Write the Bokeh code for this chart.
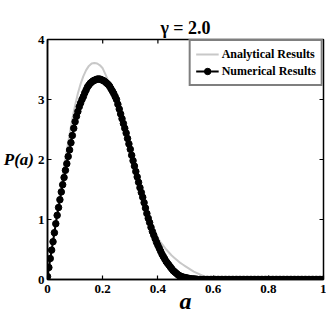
import numpy as np
from bokeh.plotting import figure
from bokeh.models import Range1d, FixedTicker, Legend, LegendItem
from bokeh.embed import file_html
from bokeh.resources import INLINE

# ---------------- data ----------------
title_text = "γ = 2.0"
x_label = "a"
y_label = "P(a)"
x_ticks = [0, 0.2, 0.4, 0.6, 0.8, 1.0]
x_tick_labels = ["0", "0.2", "0.4", "0.6", "0.8", "1"]
y_ticks = [0, 1, 2, 3, 4]
y_tick_labels = ["0", "1", "2", "3", "4"]
series_names = ["Analytical Results", "Numerical Results"]

# analytical curve, sampled every 0.01 in a
a_analytical = np.linspace(0, 1, 101)
p_analytical = [
    0.00, 0.32, 0.64, 0.96, 1.27, 1.58, 1.88, 2.15, 2.42, 2.68,
    2.90, 3.10, 3.26, 3.39, 3.49, 3.56, 3.60, 3.61, 3.60, 3.57,
    3.52, 3.42, 3.31, 3.20, 3.10, 3.00, 2.84, 2.68, 2.52, 2.35,
    2.17, 1.98, 1.80, 1.62, 1.45, 1.28, 1.12, 0.98, 0.86, 0.77,
    0.69, 0.62, 0.56, 0.50, 0.45, 0.40, 0.36, 0.32, 0.28, 0.25,
    0.22, 0.19, 0.16, 0.13, 0.11, 0.09, 0.07, 0.05, 0.035, 0.025,
    0.015, 0.01, 0.005, 0.0, 0.0, 0.0, 0.0, 0.0, 0.0, 0.0,
    0.0, 0.0, 0.0, 0.0, 0.0, 0.0, 0.0, 0.0, 0.0, 0.0,
    0.0, 0.0, 0.0, 0.0, 0.0, 0.0, 0.0, 0.0, 0.0, 0.0,
    0.0, 0.0, 0.0, 0.0, 0.0, 0.0, 0.0, 0.0, 0.0, 0.0,
    0.0,
]

# numerical results, sampled every 0.005 in a
a_numerical = np.linspace(0, 1, 201)
p_numerical = [
    0.05, 0.20, 0.35, 0.49, 0.63, 0.78, 0.93, 1.07, 1.20, 1.33,
    1.46, 1.58, 1.70, 1.82, 1.93, 2.05, 2.16, 2.28, 2.40, 2.52,
    2.63, 2.72, 2.80, 2.88, 2.94, 3.00, 3.05, 3.11, 3.16, 3.21,
    3.24, 3.27, 3.29, 3.31, 3.32, 3.33, 3.34, 3.34, 3.34, 3.33,
    3.32, 3.31, 3.29, 3.27, 3.25, 3.22, 3.18, 3.14, 3.10, 3.05,
    3.00, 2.92, 2.84, 2.76, 2.68, 2.60, 2.52, 2.44, 2.35, 2.26,
    2.17, 2.07, 1.98, 1.89, 1.80, 1.71, 1.62, 1.53, 1.45, 1.37,
    1.28, 1.19, 1.10, 1.02, 0.95, 0.87, 0.80, 0.74, 0.68, 0.62,
    0.57, 0.52, 0.47, 0.42, 0.38, 0.34, 0.30, 0.27, 0.24, 0.21,
    0.18, 0.15, 0.13, 0.11, 0.09, 0.07, 0.06, 0.05, 0.04, 0.035,
    0.03, 0.025, 0.02, 0.015, 0.01, 0.01, 0.01, 0.005, 0.005, 0.0,
    0.0,
    0.0, 0.0, 0.0, 0.0, 0.0, 0.0, 0.0, 0.0, 0.0, 0.0,
    0.0, 0.0, 0.0, 0.0, 0.0, 0.0, 0.0, 0.0, 0.0, 0.0,
    0.0, 0.0, 0.0, 0.0, 0.0, 0.0, 0.0, 0.0, 0.0, 0.0,
    0.0, 0.0, 0.0, 0.0, 0.0, 0.0, 0.0, 0.0, 0.0, 0.0,
    0.0, 0.0, 0.0, 0.0, 0.0, 0.0, 0.0, 0.0, 0.0, 0.0,
    0.0, 0.0, 0.0, 0.0, 0.0, 0.0, 0.0, 0.0, 0.0, 0.0,
    0.0, 0.0, 0.0, 0.0, 0.0, 0.0, 0.0, 0.0, 0.0, 0.0,
    0.0, 0.0, 0.0, 0.0, 0.0, 0.0, 0.0, 0.0, 0.0, 0.0,
    0.0, 0.0, 0.0, 0.0, 0.0, 0.0, 0.0, 0.0, 0.0, 0.0,
]
assert len(p_analytical) == len(a_analytical)
assert len(p_numerical) == len(a_numerical)

# ---------------- figure ----------------
FONT = "Liberation Serif"
X0, X1, Y0, Y1 = 0.0, 1.0, 0.0, 4.0
FRAME_W, FRAME_H = 277, 240
TICK_PX = 4

p = figure(
    width=326, height=319,
    x_range=Range1d(X0, X1), y_range=Range1d(Y0, Y1),
    output_backend="svg", toolbar_location=None,
    min_border_left=46, min_border_top=39,
    min_border_right=3, min_border_bottom=40,
)
p.xgrid.visible = False
p.ygrid.visible = False
p.outline_line_color = "black"
p.outline_line_width = 1.5
p.background_fill_color = "white"
p.border_fill_color = "white"

p.title.text = title_text
p.title.align = "center"
p.title.text_font = FONT
p.title.text_font_style = "bold"
p.title.text_font_size = "18px"
p.title.text_color = "black"
p.title.standoff = 4


def style_axis(ax):
    ax.major_tick_in = TICK_PX
    ax.major_tick_out = 0
    ax.minor_tick_in = 0
    ax.minor_tick_out = 0
    ax.axis_line_color = "black"
    ax.axis_line_width = 1.5
    ax.major_tick_line_color = "black"
    ax.major_tick_line_width = 1.2
    ax.major_label_text_font = FONT
    ax.major_label_text_font_style = "bold"
    ax.major_label_text_color = "black"
    ax.major_label_text_font_size = "13px"
    ax.axis_label_text_font = FONT
    ax.axis_label_text_font_style = "bold italic"
    ax.axis_label_text_color = "black"


xax = p.xaxis[0]
xax.ticker = FixedTicker(ticks=x_ticks)
xax.major_label_overrides = {t: l for t, l in zip(x_ticks, x_tick_labels)}
style_axis(xax)
xax.major_label_standoff = 5
xax.axis_label = x_label
xax.axis_label_text_font_size = "24px"
xax.axis_label_standoff = -8

yax = p.yaxis[0]
yax.ticker = FixedTicker(ticks=y_ticks)
yax.major_label_overrides = {t: l for t, l in zip(y_ticks, y_tick_labels)}
style_axis(yax)
yax.major_label_standoff = 3
yax.axis_label = y_label
yax.axis_label_text_font_size = "17px"
yax.axis_label_orientation = "horizontal"
yax.axis_label_standoff = 1

# mirrored inward ticks on the top and right edges of the frame
dy = TICK_PX * (Y1 - Y0) / FRAME_H
dx = TICK_PX * (X1 - X0) / FRAME_W
p.segment(x0=x_ticks, y0=[Y1] * len(x_ticks), x1=x_ticks, y1=[Y1 - dy] * len(x_ticks),
          line_color="black", line_width=1.2)
p.segment(x0=[X1] * len(y_ticks), y0=y_ticks, x1=[X1 - dx] * len(y_ticks), y1=y_ticks,
          line_color="black", line_width=1.2)

# ---------------- glyphs ----------------
r_an = p.line(a_analytical, p_analytical, line_color="#c8c8c8", line_width=2)
r_num_line = p.line(a_numerical, p_numerical, line_color="black", line_width=2)
r_num_pts = p.scatter(a_numerical, p_numerical, size=6.5,
                      fill_color="black", line_color="black")

legend = Legend(
    items=[
        LegendItem(label=series_names[0], renderers=[r_an]),
        LegendItem(label=series_names[1], renderers=[r_num_line, r_num_pts]),
    ],
    location="top_right", margin=0, padding=5, spacing=1,
    border_line_color="black", border_line_width=2,
    background_fill_color="white", background_fill_alpha=1,
    label_text_font=FONT, label_text_font_style="bold",
    label_text_font_size="12px", label_text_color="black",
    glyph_width=23, glyph_height=16, label_height=16, label_standoff=3,
)
p.add_layout(legend)

open("out.html", "w").write(file_html(p, INLINE))
